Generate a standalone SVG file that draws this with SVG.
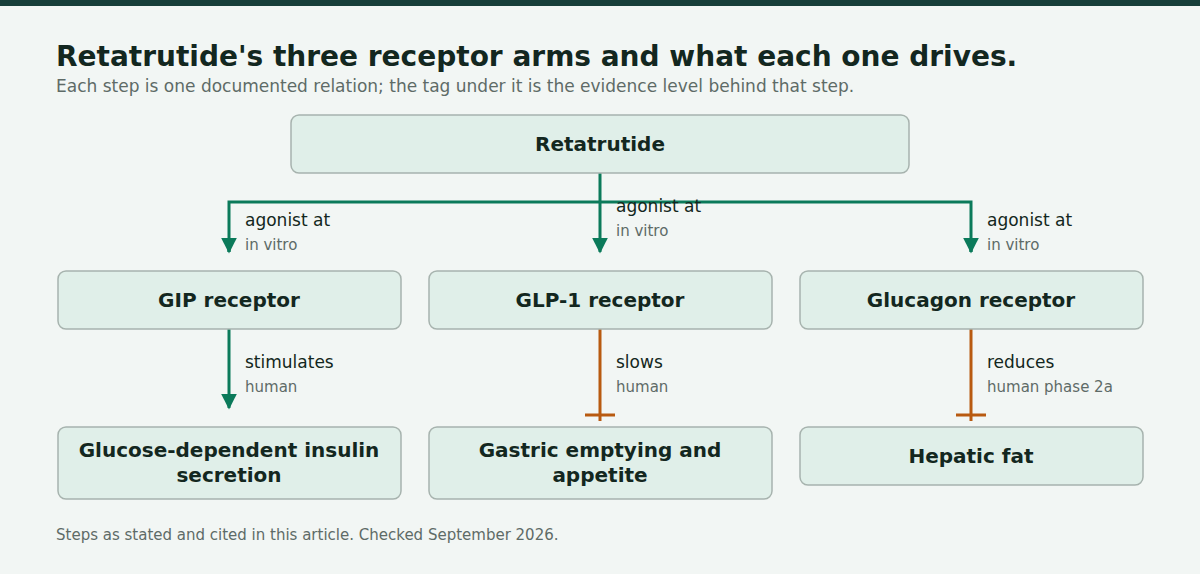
<svg xmlns="http://www.w3.org/2000/svg" width="1200" height="574" viewBox="0 0 1200 574">
<style>
text{font-family:"DejaVu Sans",sans-serif}
.box{fill:#e0efe9;stroke:#a7b3ae;stroke-width:1.5}
.nt{font-size:20px;font-weight:bold;fill:#132720;text-anchor:middle}
.lb{font-size:17px;fill:#132720}
.ev{font-size:15px;fill:#5e6b67}
.g{stroke:#0b7a5a;stroke-width:3;fill:none}
.o{stroke:#b85a10;stroke-width:3;fill:none}
</style>
<defs>
<marker id="ah" viewBox="0 0 10 10" refX="9" refY="5" markerWidth="6" markerHeight="6" markerUnits="userSpaceOnUse" orient="auto"><path d="M0,0L10,5L0,10z" fill="#0b7a5a"/></marker>
<marker id="ah2" viewBox="0 0 10 10" refX="9" refY="5" markerWidth="5.3" markerHeight="5.3" orient="auto"><path d="M0,0L10,5L0,10z" fill="#0b7a5a"/></marker>
</defs>
<rect width="1200" height="574" fill="#f2f6f4"/>
<rect width="1200" height="6" fill="#173f3a"/>
<text x="56" y="66" font-size="28" font-weight="bold" fill="#132720">Retatrutide's three receptor arms and what each one drives.</text>
<text x="56" y="92" font-size="17" fill="#5e6b67">Each step is one documented relation; the tag under it is the evidence level behind that step.</text>
<g id="connectors">
<path class="g" d="M600,173V252" marker-end="url(#ah2)"/>
<path class="g" d="M229,252V202H971V252" />
<path class="g" d="M229,240V252" marker-end="url(#ah2)"/>
<path class="g" d="M971,240V252" marker-end="url(#ah2)"/>
<path class="g" d="M229,329V408" marker-end="url(#ah2)"/>
<path class="o" d="M600,329V421M585,415H615"/>
<path class="o" d="M971,329V421M956,415H986"/>
<text class="lb" x="245" y="226">agonist at</text><text class="ev" x="245" y="250">in vitro</text>
<text class="lb" x="616" y="212">agonist at</text><text class="ev" x="616" y="236">in vitro</text>
<text class="lb" x="987" y="226">agonist at</text><text class="ev" x="987" y="250">in vitro</text>
<text class="lb" x="245" y="368">stimulates</text><text class="ev" x="245" y="392">human</text>
<text class="lb" x="616" y="368">slows</text><text class="ev" x="616" y="392">human</text>
<text class="lb" x="987" y="368">reduces</text><text class="ev" x="987" y="392">human phase 2a</text>
</g>
<g id="retatrutide"><rect class="box" x="291" y="115" width="618" height="58" rx="8"/><text class="nt" x="600" y="151">Retatrutide</text></g>
<g id="gip"><rect class="box" x="58" y="271" width="343" height="58" rx="8"/><text class="nt" x="229" y="307">GIP receptor</text></g>
<g id="glp1"><rect class="box" x="429" y="271" width="343" height="58" rx="8"/><text class="nt" x="600" y="307">GLP-1 receptor</text></g>
<g id="glucagon"><rect class="box" x="800" y="271" width="343" height="58" rx="8"/><text class="nt" x="971" y="307">Glucagon receptor</text></g>
<g id="insulin"><rect class="box" x="58" y="427" width="343" height="72" rx="8"/><text class="nt" x="229" y="457">Glucose-dependent insulin</text><text class="nt" x="229" y="482">secretion</text></g>
<g id="gastric"><rect class="box" x="429" y="427" width="343" height="72" rx="8"/><text class="nt" x="600" y="457">Gastric emptying and</text><text class="nt" x="600" y="482">appetite</text></g>
<g id="hepatic"><rect class="box" x="800" y="427" width="343" height="58" rx="8"/><text class="nt" x="971" y="463">Hepatic fat</text></g>
<text x="56" y="540" font-size="15" fill="#5e6b67">Steps as stated and cited in this article. Checked September 2026.</text>
</svg>
